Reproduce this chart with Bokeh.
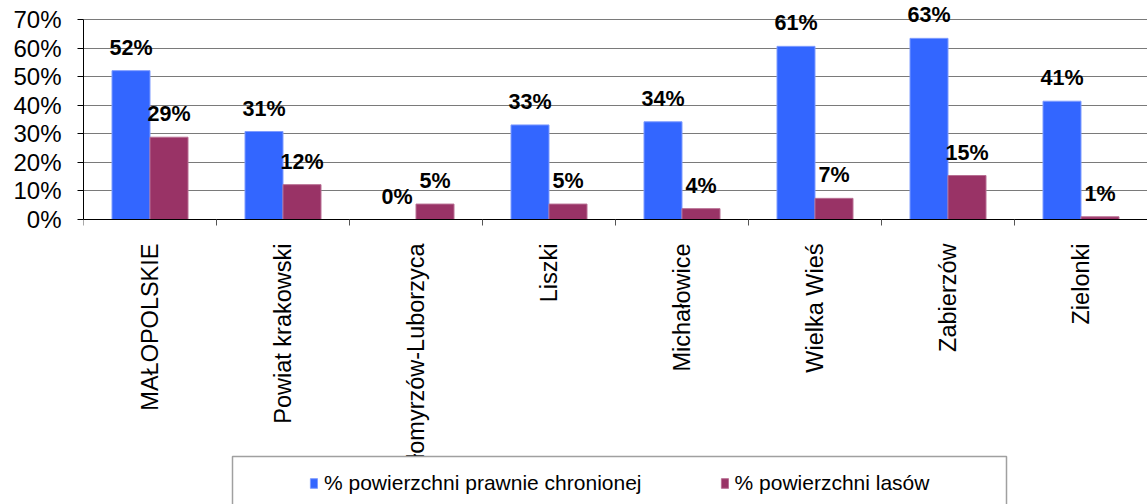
import numpy as np
from bokeh.plotting import figure
from bokeh.models import (ColumnDataSource, FixedTicker, Range1d, Legend, LegendItem,
                          BoxAnnotation, LinearAxis)
from bokeh.core.properties import value
from bokeh.embed import file_html
from bokeh.resources import INLINE

# ---- data ----
categories = ["MAŁOPOLSKIE", "Powiat krakowski", "Słomyrzów-Luborzyca", "Liszki",
              "Michałowice", "Wielka Wieś", "Zabierzów", "Zielonki"]
protected_pct = [52.1, 30.8, 0.0, 33.1, 34.2, 60.6, 63.4, 41.4]
forest_pct = [28.8, 12.2, 5.4, 5.4, 3.8, 7.4, 15.4, 0.95]
series_names = ["% powierzchni prawnie chronionej", "% powierzchni lasów"]
y_ticks = [0, 10, 20, 30, 40, 50, 60, 70]
y_tick_labels = ["0%", "10%", "20%", "30%", "40%", "50%", "60%", "70%"]

FONT = "Liberation Sans"
BLUE = "#3366FF"
MAROON = "#993366"
BAR_W = 2 / 7
PX_PER_PCT = 200 / 70          # 70 % spans 200 px
FRAME_H = 504
FRAME_TOP = 0
Y_AXIS_TOP_PX = 19             # 70 % line position from top
Y_ZERO_PX = 219                # 0 % line position from top

n = len(categories)
centers = np.arange(n) + 0.5

src_a = ColumnDataSource(dict(x=centers - BAR_W / 2, top=protected_pct,
                              lab=[f"{round(v)}%" for v in protected_pct]))
src_b = ColumnDataSource(dict(x=centers + BAR_W / 2, top=forest_pct,
                              lab=[f"{round(v)}%" for v in forest_pct]))

y_top = 70 + (Y_AXIS_TOP_PX - FRAME_TOP) / PX_PER_PCT
y_bottom = -(FRAME_H - Y_ZERO_PX) / PX_PER_PCT

p = figure(width=1147, height=504, x_range=Range1d(0, n), y_range=Range1d(y_bottom, y_top),
           output_backend="svg", toolbar_location=None, x_axis_location=None,
           min_border=0, min_border_left=83, min_border_top=0,
           min_border_bottom=0, min_border_right=0)
p.outline_line_color = None
p.background_fill_color = "white"
p.border_fill_color = "white"

r1 = p.vbar(x="x", top="top", width=BAR_W, source=src_a, fill_color=BLUE,
            line_color="#7f9cff", line_width=1)
r2 = p.vbar(x="x", top="top", width=BAR_W, source=src_b, fill_color=MAROON,
            line_color="#b86f93", line_width=1)

for src in (src_a, src_b):
    p.text(x="x", y="top", text="lab", source=src, text_align="center",
           text_baseline="alphabetic", y_offset=-23,
           text_font=value(FONT), text_font_size="21.5px", text_font_style="bold",
           text_color="black")

# y axis
yax = p.yaxis[0]
yax.bounds = (0, 70)
yax.ticker = FixedTicker(ticks=y_ticks)
yax.major_label_overrides = {t: l for t, l in zip(y_ticks, y_tick_labels)}
yax.major_label_text_font = FONT
yax.major_label_text_font_size = "24px"
yax.major_label_text_color = "black"
yax.major_tick_out = 6
yax.major_tick_in = 0
yax.minor_tick_line_color = None
yax.major_label_standoff = 16
yax.axis_line_color = "black"
yax.major_tick_line_color = "black"

# x axis at y = 0: labels at category centers, ticks at category boundaries
xax = LinearAxis(fixed_location=0)
xax.ticker = FixedTicker(ticks=list(centers), minor_ticks=list(range(n + 1)))
xax.major_label_overrides = {float(c): cat for c, cat in zip(centers, categories)}
xax.major_label_orientation = np.pi / 2
xax.major_label_text_font = FONT
xax.major_label_text_font_size = "23.5px"
xax.major_label_text_color = "black"
xax.major_tick_line_color = None
xax.major_tick_out = 0
xax.major_tick_in = 0
xax.minor_tick_out = 6
xax.minor_tick_in = 0
xax.minor_tick_line_color = "#555555"
xax.major_label_standoff = 18
xax.axis_line_color = "black"
p.add_layout(xax, "below")

p.xgrid.grid_line_color = None
p.ygrid.ticker = FixedTicker(ticks=y_ticks)
p.ygrid.grid_line_color = "#7a7a7a"
p.ygrid.grid_line_width = 1

# legend frame (screen units: from frame left, upward from frame bottom)
box = BoxAnnotation(left=149, right=923, top=48, bottom=-10,
                    left_units="screen", right_units="screen",
                    top_units="screen", bottom_units="screen",
                    fill_color="white", fill_alpha=1.0,
                    line_color="#a0a0a0", line_alpha=1.0, line_width=1.5,
                    level="annotation")
p.add_layout(box)

legend = Legend(items=[LegendItem(label=series_names[0], renderers=[r1]),
                       LegendItem(label=series_names[1], renderers=[r2])],
                location=(226, 9), orientation="horizontal",
                padding=0, margin=0, spacing=78,
                glyph_width=9, glyph_height=12, label_standoff=6, label_height=24,
                label_text_font=FONT, label_text_font_size="21px",
                label_text_color="black",
                border_line_color=None, background_fill_alpha=0)
p.add_layout(legend)

open("out.html", "w").write(file_html(p, INLINE))
